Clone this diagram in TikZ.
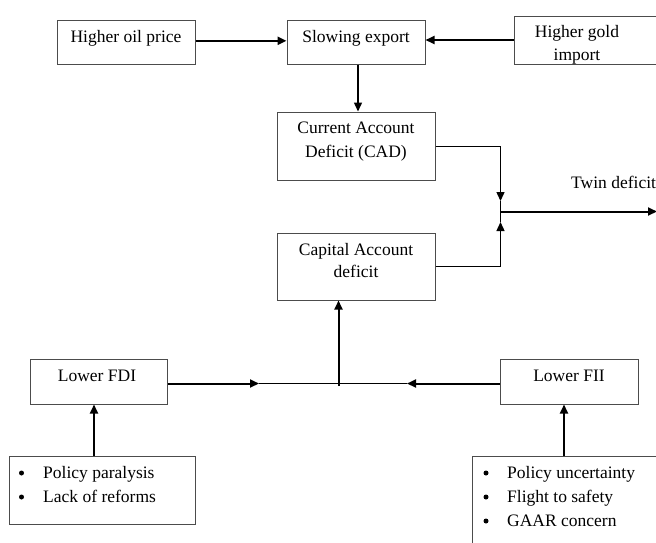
\documentclass[tikz,border=0pt]{standalone}
\usepackage{fontspec}
\setmainfont{Liberation Serif}
\usetikzlibrary{arrows.meta}
\tikzset{
  box/.style={draw=black!70, line width=1pt, rectangle, inner sep=0pt, fill=none},
  txt/.style={anchor=base, inner sep=0pt, font=\fontsize{17.5}{21}\selectfont},
  ltxt/.style={anchor=base west, inner sep=0pt, font=\fontsize{17.5}{21}\selectfont},
  bul/.style={anchor=center, inner sep=0pt, circle, fill=black, minimum size=5pt},
  arr/.style={line width=2pt, -{Triangle[length=9pt,width=8pt]}},
  tarr/.style={line width=1.4pt, -{Triangle[length=9pt,width=8pt]}},
  thin/.style={line width=1pt}
}
\begin{document}
\begin{tikzpicture}[x=1pt,y=-1pt]
\clip (0,0) rectangle (656,542);
\fill[white] (0,0) rectangle (656,542);
% boxes
\node[box, minimum width=138pt, minimum height=44pt] (oil) at (126,42) {};
\node[box, minimum width=138pt, minimum height=44pt] (slow) at (356,42) {};
\node[box, minimum width=150pt, minimum height=48pt] (gold) at (589,40) {};
\node[box, minimum width=158pt, minimum height=68pt] (cad) at (356,146) {};
\node[box, minimum width=158pt, minimum height=67pt] (cap) at (356,266.5) {};
\node[box, minimum width=137pt, minimum height=45pt] (fdi) at (98.5,381.5) {};
\node[box, minimum width=138pt, minimum height=45pt] (fii) at (569,381.5) {};
\node[box, minimum width=186pt, minimum height=68pt] (bl) at (102,490) {};
\node[box, minimum width=200pt, minimum height=100pt] (br) at (572,506) {};
% texts
\node[txt] (toil) at (126,42) {Higher oil price};
\node[txt] (tslow) at (356,42) {Slowing export};
\begin{scope}
\clip (gold.north west) rectangle (gold.south east);
\node[txt] (tgold1) at (577,37.5) {Higher gold};
\node[txt] (tgold2) at (577,60) {import};
\end{scope}
\node[txt] (tcad1) at (356,133) {Current Account};
\node[txt] (tcad2) at (356,157) {Deficit (CAD)};
\node[txt] (tcap1) at (356,255) {Capital Account};
\node[txt] (tcap2) at (356,277) {deficit};
\node[ltxt] (ttwin) at (571,188.5) {Twin deficit};
\node[txt] (tfdi) at (97,381) {Lower FDI};
\node[txt] (tfii) at (569,381) {Lower FII};
\node[bul] (bl1b) at (21.5,473) {};
\node[ltxt] (bl1) at (43,478) {Policy paralysis};
\node[bul] (bl2b) at (21.5,497) {};
\node[ltxt] (bl2) at (43,502) {Lack of reforms};
\node[bul] (br1b) at (486,473) {};
\node[ltxt] (br1) at (507,478) {Policy uncertainty};
\node[bul] (br2b) at (486,497) {};
\node[ltxt] (br2) at (507,502) {Flight to safety};
\node[bul] (br3b) at (486,521) {};
\node[ltxt] (br3) at (507,526) {GAAR concern};
% coordinates
\coordinate (jt) at (500.5,201);
\coordinate (jm) at (500.5,211.5);
\coordinate (jb) at (500.5,222);
\coordinate (jta) at (500.5,187);
\coordinate (jba) at (500.5,236);
\coordinate (tw) at (657,211.5);
\coordinate (hl) at (338.5,383.5);
\coordinate (hlb) at (338.5,386);
\coordinate (al) at (259,383.5);
\coordinate (ar) at (407,383.5);
% connectors
\draw[arr] (oil.east |- 0,40.8) -- (slow.west |- 0,40.8);
\draw[arr] (gold.west) -- (gold.west -| slow.east);
\draw[tarr] ([xshift=2pt]slow.south) -- ([xshift=2pt]slow.south |- cad.north);
\draw[thin] (cad.east) -| (jta);
\draw[tarr] (jta) -- (jt);
\draw[thin] (cap.east) -| (jba);
\draw[tarr] (jba) -- (jb);
\draw[thin] (jt) -- (jb);
\draw[arr] (jm) -- (tw);
\draw[arr] (fdi.east |- hl) -- (al);
\draw[arr] (fii.west |- hl) -- (ar);
\draw[thin] (al) -- (ar);
\draw[arr] (hlb) -- (hlb |- cap.south);
\draw[arr] ([xshift=-4.5pt]bl.north -| fdi.south) -- ([xshift=-4.5pt]fdi.south);
\draw[arr] (564,456) coordinate (brn) -- (brn |- fii.south);
\end{tikzpicture}
\end{document}
